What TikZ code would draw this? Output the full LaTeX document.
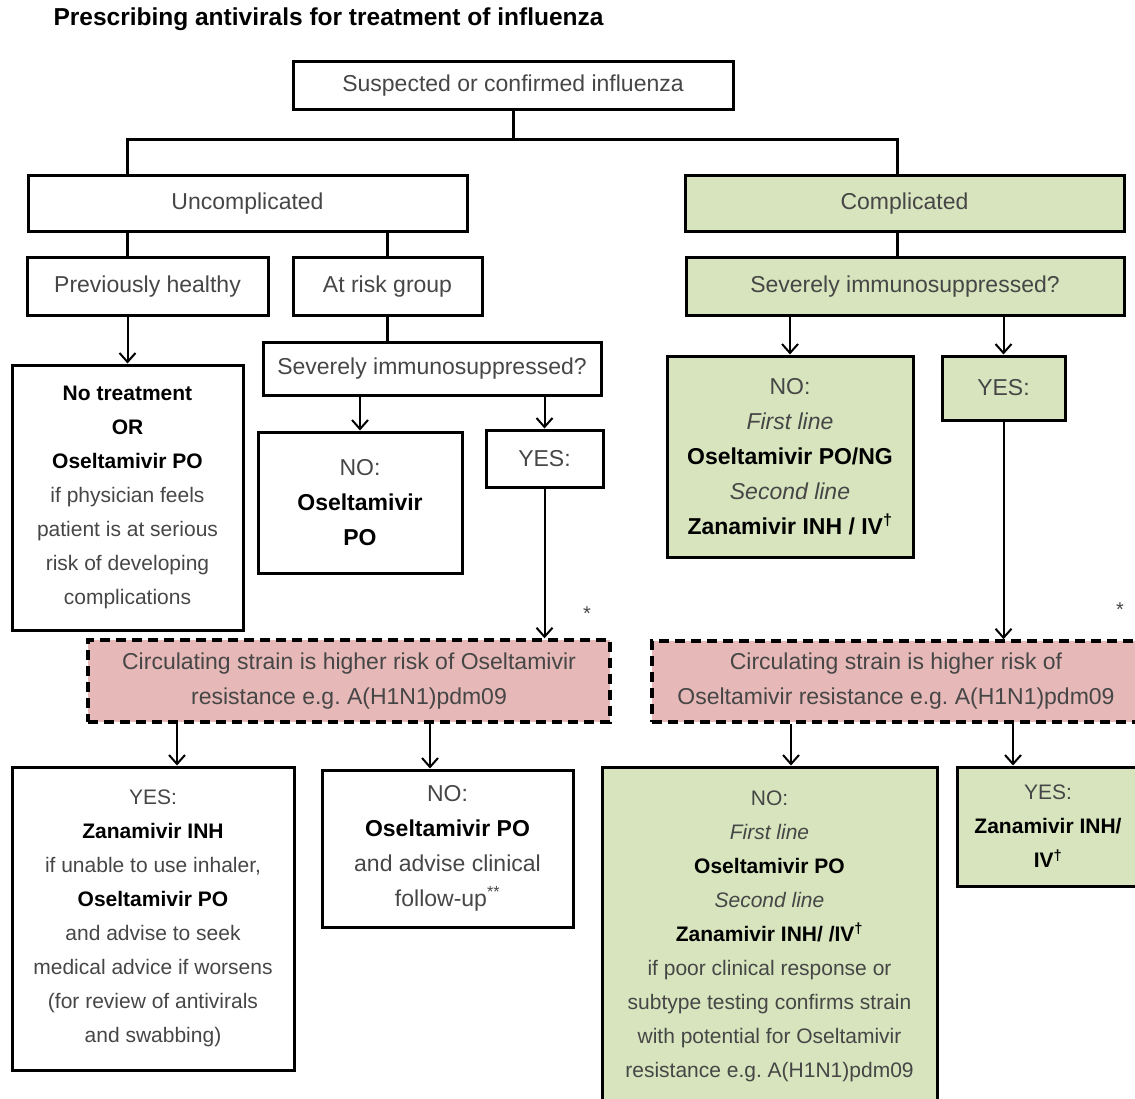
\documentclass[tikz,border=0pt]{standalone}
\usepackage{fontspec}
\setmainfont{Liberation Sans}
\usetikzlibrary{arrows.meta}
\definecolor{cplxgreen}{RGB}{215,228,189}
\definecolor{riskpink}{RGB}{230,185,184}
\definecolor{txtgray}{RGB}{70,70,70}
\newcommand{\med}[1]{{\color{black}\bfseries #1}}
\newcommand{\dg}{\textsuperscript{†}}
\frenchspacing

\begin{document}
\begin{tikzpicture}[x=1pt,y=-1pt,
  box/.style={draw,line width=3pt,align=center,inner sep=0pt,text=txtgray,font=\fontsize{23}{35}\selectfont},
  small/.style={font=\fontsize{21}{34}\selectfont},
  cplx/.style={fill=cplxgreen},
  resist/.style={box,fill=riskpink,dash pattern=on 10pt off 6pt,line width=3.5pt},
  note/.style={text=txtgray,font=\fontsize{20}{24}\selectfont},
  link/.style={line width=3pt},
  arr/.style={line width=2pt,-{Straight Barb[length=9pt,width=16pt,line width=2pt]}}]
\useasboundingbox (0,0) rectangle (1135,1099);
\node[anchor=west,font=\bfseries\fontsize{24.5}{28}\selectfont] (title) at (50,19) {Prescribing antivirals for treatment of influenza};
\node[box,minimum width=440,minimum height=48] (susp) at (513,86) {Suspected or confirmed influenza};
% uncomplicated branch
\node[box,minimum width=439,minimum height=56] (uncomp) at (247.5,204) {Uncomplicated};
\node[box,minimum width=241,minimum height=58] (prevh) at (147.5,287) {Previously healthy};
\node[box,minimum width=189,minimum height=58] (atrisk) at (387.5,287) {At risk group};
\node[box,minimum width=338,minimum height=53] (sevL) at (432,368.5) {Severely immunosuppressed?};
\node[box,small,minimum width=231,minimum height=265] (notreat) at (127.5,497.5) {\med{No treatment}\\ \med{OR}\\ \med{Oseltamivir PO}\\ if physician feels\\ patient is at serious\\ risk of developing\\ complications};
\node[box,minimum width=204,minimum height=141] (noL) at (360,502.5) {NO:\\ \med{Oseltamivir}\\ \med{PO}};
\node[box,minimum width=117,minimum height=57] (yesL) at (544.5,458.5) {YES:};
\node[resist,minimum width=522,minimum height=82] (resL) at (349,681) {Circulating strain is higher risk of Oseltamivir\\ resistance e.g. A(H1N1)pdm09};
\node[box,small,minimum width=282,minimum height=303] (yesLL) at (153,918.5) {YES:\\ \med{Zanamivir INH}\\ if unable to use inhaler,\\ \med{Oseltamivir PO}\\ and advise to seek\\ medical advice if worsens\\ (for review of antivirals\\ and swabbing)};
\node[box,minimum width=251,minimum height=157] (noLR) at (447.5,848.5) {NO:\\ \med{Oseltamivir PO}\\ and advise clinical\\ follow-up\textsuperscript{**}};
\node[note] (star1) at (587,614) {*};
% complicated branch
\node[box,cplx,minimum width=439,minimum height=56] (comp) at (904.5,204) {Complicated};
\node[box,cplx,minimum width=438,minimum height=58] (sevR) at (905,287) {Severely immunosuppressed?};
\node[box,cplx,minimum width=246,minimum height=201] (noR) at (790,456.5) {NO:\\ \textit{First line}\\ \med{Oseltamivir PO/NG}\\ \textit{Second line}\\ \med{Zanamivir INH / IV\dg}};
\node[box,cplx,minimum width=123,minimum height=64] (yesR) at (1003.5,388) {YES:};
\node[resist,minimum width=488,minimum height=81] (resR) at (896,681.5) {Circulating strain is higher risk of\\ Oseltamivir resistance e.g. A(H1N1)pdm09};
\node[box,small,cplx,minimum width=335,minimum height=338] (noRR) at (769.5,936) {NO:\\ \textit{First line}\\ \med{Oseltamivir PO}\\ \textit{Second line}\\ \med{Zanamivir INH/ /IV\dg}\\ if poor clinical response or\\ subtype testing confirms strain\\ with potential for Oseltamivir\\ resistance e.g. A(H1N1)pdm09};
\node[box,small,cplx,minimum width=182,minimum height=119] (yesRR) at (1048,826.5) {YES:\\ \med{Zanamivir INH/}\\ \med{IV\dg}};
\node[note] (star2) at (1120,610) {*};
% connectors
\coordinate (split) at (513,140);
\coordinate (ent1) at ([xshift=24pt]yesLL.north);
\coordinate (ent2) at ([xshift=-17.5pt]noLR.north);
\coordinate (ent3) at ([xshift=21.5pt]noRR.north);
\coordinate (ent4) at ([xshift=-35pt]yesRR.north);
\draw[link] (susp) -- (split);
\draw[link] (uncomp.north -| notreat) |- (split) -| (comp.north -| 897,0);
\draw[link] (uncomp.south -| notreat) -- (prevh.north -| notreat);
\draw[link] (uncomp.south -| atrisk) -- (atrisk);
\draw[link] (atrisk) -- (sevL.north -| atrisk);
\draw[link] (comp.south -| 897,0) -- (sevR.north -| 897,0);
\draw[arr] (prevh.south -| notreat) -- (notreat);
\draw[arr] (sevL.south -| noL) -- (noL);
\draw[arr] (sevL.south -| yesL) -- (yesL);
\draw[arr] (yesL) -- (resL.north -| yesL);
\draw[arr] (resL.south -| ent1) -- (ent1);
\draw[arr] (resL.south -| ent2) -- (ent2);
\draw[arr] (sevR.south -| noR) -- (noR);
\draw[arr] (sevR.south -| yesR) -- (yesR);
\draw[arr] (yesR) -- (resR.north -| yesR);
\draw[arr] (resR.south -| ent3) -- (ent3);
\draw[arr] (resR.south -| ent4) -- (ent4);
\end{tikzpicture}
\end{document}
